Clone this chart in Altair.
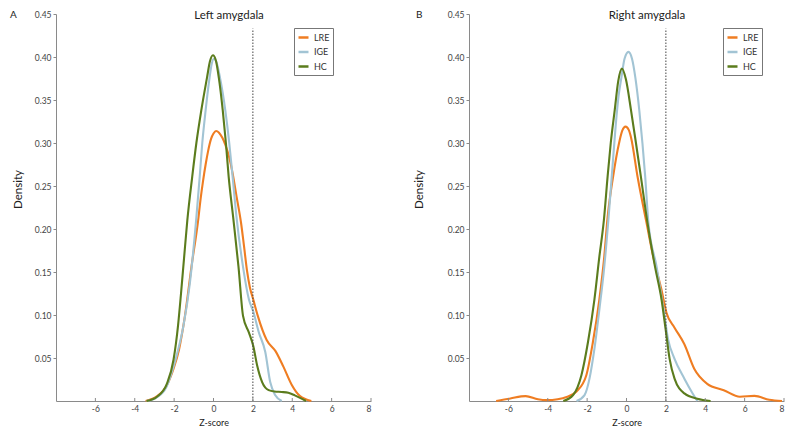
import altair as alt
import pandas as pd

groups = ["LRE", "IGE", "HC"]
colors = ["#EF7D22", "#A2C4D4", "#5B7C1D"]
x_ticks = [-6, -4, -2, 0, 2, 4, 6, 8]
y_ticks = [0.05, 0.10, 0.15, 0.20, 0.25, 0.30, 0.35, 0.40, 0.45]
threshold = 2
threshold_top = 0.433

# ---- Left amygdala ----
left_lre_x = [-3.45, -2.9, -2.4, -2.03, -1.75, -1.45, -1.12, -0.78, -0.65, -0.53, -0.40, -0.28, -0.12, 0.0, 0.13,
              0.28, 0.45, 0.6, 0.8, 0.97, 1.17, 1.4, 1.55, 1.7, 1.85, 2.02, 2.25, 2.7, 3.15, 3.55, 3.97, 4.38, 4.97]
left_lre_y = [0, 0.005, 0.017, 0.0375, 0.06, 0.099, 0.156, 0.210, 0.236, 0.256, 0.275, 0.290, 0.305, 0.311, 0.314,
              0.312, 0.306, 0.298, 0.283, 0.265, 0.238, 0.207, 0.18, 0.152, 0.132, 0.118, 0.099, 0.071, 0.058, 0.040,
              0.019, 0.006, 0]
left_ige_x = [-3.4, -2.9, -2.4, -2.03, -1.87, -1.53, -1.2, -0.87, -0.70, -0.57, -0.40, -0.2, -0.1, 0.02, 0.15, 0.33,
              0.6, 0.8, 0.97, 1.17, 1.5, 1.8, 2.02, 2.3, 2.63, 2.88, 3.13, 3.47]
left_ige_y = [0, 0.004, 0.016, 0.04, 0.053, 0.087, 0.137, 0.2135, 0.261, 0.30, 0.338, 0.376, 0.391, 0.398, 0.394,
              0.376, 0.338, 0.30, 0.261, 0.2135, 0.156, 0.118, 0.104, 0.08, 0.057, 0.022, 0.007, 0]
left_hc_x = [-3.4, -2.87, -2.37, -2.03, -1.8, -1.65, -1.5, -1.33, -1.08, -0.87, -0.62, -0.33, -0.18, -0.03, 0.12,
             0.27, 0.47, 0.63, 0.77, 1.0, 1.27, 1.5, 1.8, 2.02, 2.22, 2.47, 2.8, 3.1, 3.47, 3.8, 4.13, 4.7]
left_hc_y = [0, 0.005, 0.02, 0.048, 0.088, 0.125, 0.165, 0.21, 0.261, 0.30, 0.338, 0.376, 0.395, 0.402, 0.396,
             0.376, 0.338, 0.30, 0.261, 0.2135, 0.156, 0.099, 0.0796, 0.064, 0.041, 0.022, 0.0126, 0.011, 0.0105,
             0.0095, 0.0065, 0]

# ---- Right amygdala ----
right_lre_x = [-6.62, -5.9, -5.12, -4.5, -4.04, -3.5, -3.04, -2.54, -2.04, -1.71, -1.38, -1.13, -0.96, -0.68, -0.38,
               -0.22, -0.05, 0.12, 0.23, 0.56, 1.01, 1.36, 1.78, 2.03, 2.44, 2.94, 3.44, 4.1, 4.94, 5.76, 6.5, 7.25,
               7.9]
right_lre_y = [0, 0.003, 0.0057, 0.002, 0.001, 0.002, 0.0046, 0.011, 0.030, 0.068, 0.118, 0.1676, 0.2135, 0.261,
               0.2997, 0.314, 0.319, 0.315, 0.3065, 0.261, 0.208, 0.1676, 0.129, 0.1026, 0.0853, 0.066, 0.0375,
               0.020, 0.0126, 0.005, 0.006, 0.0015, 0]
right_ige_x = [-2.54, -2.13, -1.88, -1.63, -1.38, -1.13, -0.91, -0.72, -0.55, -0.4, -0.26, -0.1, 0.1, 0.28, 0.45, 0.65,
               0.81, 0.95, 1.11, 1.53, 1.86, 2.11, 2.44, 2.94, 3.36, 3.6]
right_ige_y = [0, 0.0069, 0.026, 0.0605, 0.106, 0.156, 0.2135, 0.27, 0.32, 0.355, 0.376, 0.398, 0.406, 0.398, 0.376,
               0.338, 0.2997, 0.261, 0.208, 0.156, 0.110, 0.072, 0.049, 0.026, 0.0088, 0]
right_hc_x = [-3.21, -2.71, -2.29, -1.96, -1.63, -1.38, -1.15, -0.96, -0.8, -0.6, -0.42, -0.23, -0.03, 0.23, 0.48,
              0.73, 1.06, 1.45, 1.78, 1.99, 2.19, 2.44, 2.94, 3.6, 4.27]
right_hc_y = [0, 0.007, 0.030, 0.068, 0.118, 0.1676, 0.21, 0.261, 0.30, 0.338, 0.372, 0.3865, 0.374, 0.338, 0.30,
              0.261, 0.208, 0.156, 0.118, 0.083, 0.049, 0.026, 0.0088, 0.0027, 0]

FONT = "Lato"
AXIS_GREY = "#8a8a8a"
PANEL_W = 315
PANEL_H = 387


def series_frame(xs_list, ys_list):
    rows = []
    for g, xs, ys in zip(groups, xs_list, ys_list):
        for i, (x, y) in enumerate(zip(xs, ys)):
            rows.append({"z": x, "density": y, "group": g, "i": i})
    return pd.DataFrame(rows)


def panel(df, title, letter, legend_x, ytitle_x, letter_x, title_x):
    xs = alt.Scale(domain=[-8, 8], nice=False, zero=False)
    ys = alt.Scale(domain=[0, 0.45], nice=False)
    x_axis = alt.Axis(values=x_ticks, ticks=False, labelExpr="'' + datum.value", title="Z-score",
                      titleY=17, titleBaseline="top", titleFontSize=9, titleFontWeight="normal",
                      labelPadding=3, grid=False)
    y_axis = alt.Axis(values=y_ticks, format=".2f", tickSize=3, labelPadding=2, title="Density",
                      titleX=ytitle_x, titleY=175, titleAngle=270, titleAlign="center",
                      titleBaseline="middle", titleFontSize=11.5, titleFontWeight="normal", grid=False)
    lines = alt.Chart(df).mark_line(interpolate="monotone", strokeWidth=2.1).encode(
        x=alt.X("z:Q", scale=xs, axis=x_axis),
        y=alt.Y("density:Q", scale=ys, axis=y_axis),
        color=alt.Color("group:N", scale=alt.Scale(domain=groups, range=colors),
                        legend=alt.Legend(orient="none", legendX=legend_x, legendY=14, title=None,
                                          strokeColor="#777", fillColor="white", padding=3,
                                          symbolType="stroke", symbolStrokeWidth=2.5, symbolSize=100,
                                          labelFontSize=9, labelFont=FONT, labelColor="#333",
                                          rowPadding=2.5, labelOffset=4)),
        order=alt.Order("i:Q"),
    )
    thr = pd.DataFrame({"z": [threshold], "density": [0.0], "density2": [threshold_top]})
    dotted = alt.Chart(thr).mark_rule(strokeDash=[1.5, 1.5], color="#444", strokeWidth=1).encode(
        x=alt.X("z:Q", title="Z-score"),
        y=alt.Y("density:Q", title="Density"),
        y2="density2:Q",
    )
    tk = pd.DataFrame({"z": x_ticks, "density": [0.0] * len(x_ticks), "density2": [0.0035] * len(x_ticks)})
    xticks = alt.Chart(tk).mark_rule(color=AXIS_GREY, strokeWidth=1).encode(
        x=alt.X("z:Q", title="Z-score"),
        y=alt.Y("density:Q", title="Density"),
        y2="density2:Q",
    )
    lab = pd.DataFrame({"label": [letter]})
    letter_text = alt.Chart(lab).mark_text(align="left", baseline="top", fontSize=10, font=FONT,
                                           color="#222").encode(
        x=alt.value(letter_x), y=alt.value(-4), text="label:N"
    )
    ttl = pd.DataFrame({"label": [title]})
    title_text = alt.Chart(ttl).mark_text(align="center", baseline="top", fontSize=11.5, font=FONT,
                                          color="#222").encode(
        x=alt.value(title_x), y=alt.value(-4), text="label:N"
    )
    return alt.layer(lines, dotted, xticks, letter_text, title_text).properties(width=PANEL_W, height=PANEL_H)


left = panel(series_frame([left_lre_x, left_ige_x, left_hc_x], [left_lre_y, left_ige_y, left_hc_y]),
             "Left amygdala", "A", 238, -38, -46, 173)
right = panel(series_frame([right_lre_x, right_ige_x, right_hc_x], [right_lre_y, right_ige_y, right_hc_y]),
              "Right amygdala", "B", 254, -50, -53, 178)

chart = alt.hconcat(left, right, spacing=41).resolve_scale(color="independent").resolve_legend(
    color="independent"
).properties(
    padding={"left": 2, "top": 2, "right": 0, "bottom": 0}
).configure_view(stroke=None).configure_axis(
    domainColor=AXIS_GREY, tickColor=AXIS_GREY, labelColor="#444", titleColor="#222",
    labelFont=FONT, titleFont=FONT, labelFontSize=8.5
)

chart.save("out.html", embed_options={"renderer": "svg", "actions": False})
